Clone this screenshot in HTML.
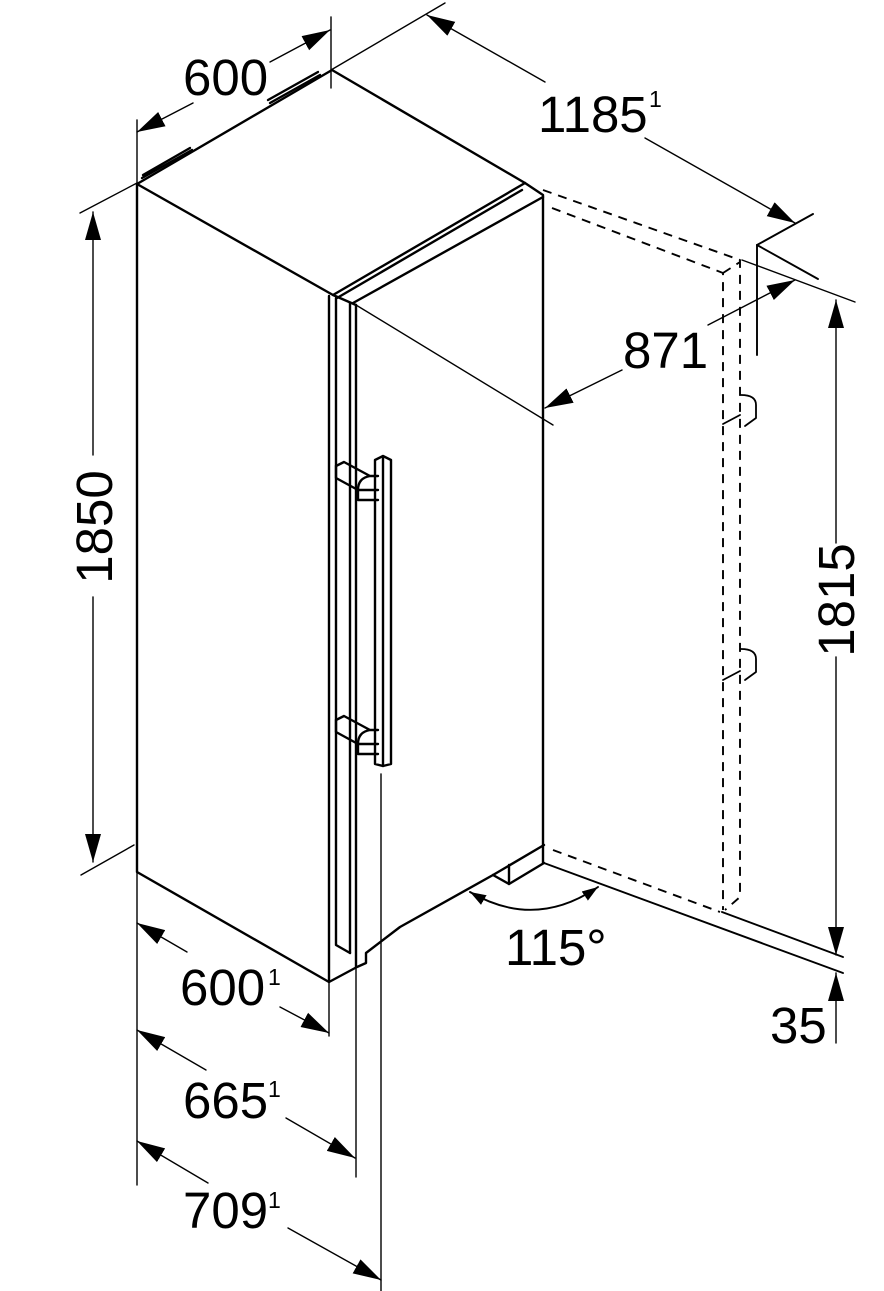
<!DOCTYPE html>
<html><head><meta charset="utf-8"><style>
html,body{margin:0;padding:0;background:#fff;}
svg{display:block;}
text{font-family:"Liberation Sans",Arial,sans-serif;fill:#000;}
</style></head><body>
<svg width="884" height="1291" viewBox="0 0 884 1291" xmlns="http://www.w3.org/2000/svg">
<defs>
<marker id="a" markerUnits="userSpaceOnUse" markerWidth="30" markerHeight="18" refX="28" refY="9" orient="auto"><path d="M0,1 L28,9 L0,17 z" fill="#000"/></marker>
<marker id="s" markerUnits="userSpaceOnUse" markerWidth="18" markerHeight="12" refX="16" refY="6" orient="auto-start-reverse"><path d="M0,0.5 L16,6 L0,11.5 z" fill="#000"/></marker>
</defs>
<g fill="none" stroke="#000" stroke-linejoin="round" stroke-linecap="round">
<g stroke-width="2.4">
<path d="M137,184 L332,70 L525,183 L543,195 L543,863"/>
<path d="M137,184 L137,872 L329,982"/>
<path d="M137,184 L333,295 L525,183"/>
<path d="M337,298 L522,190"/>
<path d="M353,303 L543,197"/>
<path d="M333,295 L356,305"/>
<path d="M329,296 L329,982 L357,967 L366,963 L366,953 L400,927 L493,875 L544,845"/>
<path d="M493,875 L509,884 L544,863"/>
<path d="M509,865 L509,884"/>
<path d="M336,298 L336,945 L350,953"/>
<path d="M350,303 L350,953"/>
<path d="M356,305 L356,967"/>
<path d="M375,460 L383,456 L391,460 L391,764 L383,766 L375,764 Z"/>
<path d="M383,458 L383,766"/>
<path d="M336,466 L344,462 L370,476 L378,476 M336,466 L336,478 L358,490 L378,490 M358,490 L358,500 L378,500 M370,476 Q358,478 358,490"/>
<path d="M336,720 L344,716 L370,730 L378,730 M336,720 L336,732 L358,744 L378,744 M358,744 L358,754 L378,754 M370,730 Q358,732 358,744"/>
<path d="M142,178 L192,150 M143,175 L190,148"/>
<path d="M270,103 L320,75 M268,100 L318,72"/>
</g>
<g stroke-width="1.9">
<path d="M544,863 L843,973"/>
<path d="M722,912 L843,957"/>
<path d="M757,245 L757,355"/>
<path d="M757,245 L813,214"/>
<path d="M757,245 L818,279"/>
</g>
<g stroke-width="1.9" stroke-dasharray="9,7" stroke-linecap="butt">
<path d="M543,190 L740,260 L740,897 L725,910"/>
<path d="M552,208 L723,273 L723,910"/>
<path d="M723,273 L740,262"/>
<path d="M553,850 L720,912"/>
</g>
<g stroke-width="1.8">
<path d="M741,395 Q756,395 756,405 L756,418 L745,426"/>
<path d="M741,649 Q756,649 756,659 L756,672 L745,680"/>
<path d="M723,424 L740,415 M723,680 L740,671"/>
</g>
<g stroke-width="1.4">
<path d="M137,120 L137,184"/>
<path d="M331,17 L331,88"/>
<path d="M331,70 L445,3"/>
<path d="M80,213 L137,183"/>
<path d="M81,875 L134,845"/>
<path d="M356,305 L553,425"/>
<path d="M742,260 L855,302"/>
<path d="M137,872 L137,1185"/>
<path d="M329,982 L329,1036"/>
<path d="M356,967 L356,1177"/>
<path d="M381,774 L381,1291"/>
</g>
<g stroke-width="1.4" marker-end="url(#a)">
<path d="M193,103 L137,132"/>
<path d="M270,62 L330,30"/>
<path d="M545,82 L427,15"/>
<path d="M645,138 L795,223"/>
<path d="M622,370 L545,408"/>
<path d="M708,325 L795,280"/>
<path d="M93,455 L93,212"/>
<path d="M93,597 L93,862"/>
<path d="M836,543 L836,300"/>
<path d="M836,657 L836,955"/>
<path d="M836,1043 L836,973"/>
<path d="M187,952 L137,923"/>
<path d="M280,1007 L329,1033"/>
<path d="M206,1070 L137,1030"/>
<path d="M286,1118 L355,1158"/>
<path d="M208,1183 L137,1141"/>
<path d="M288,1228 L381,1280"/>
</g>
<path d="M470,892 Q535,930 598,887" stroke-width="1.9" marker-start="url(#s)" marker-end="url(#s)"/>
</g>
<g font-size="51">
<text x="183" y="95">600</text>
<text x="538" y="132">1185</text>
<text x="623" y="368">871</text>
<text x="180" y="1005">600</text>
<text x="183" y="1118">665</text>
<text x="183" y="1228">709</text>
<text x="505" y="965">115°</text>
<text x="770" y="1043">35</text>
<text transform="translate(112,527) rotate(-90)" text-anchor="middle">1850</text>
<text transform="translate(854,600) rotate(-90)" text-anchor="middle">1815</text>
</g>
<g font-size="23">
<text x="649" y="107">1</text>
<text x="268" y="985">1</text>
<text x="268" y="1097">1</text>
<text x="268" y="1208">1</text>
</g>
</svg>
</body></html>
